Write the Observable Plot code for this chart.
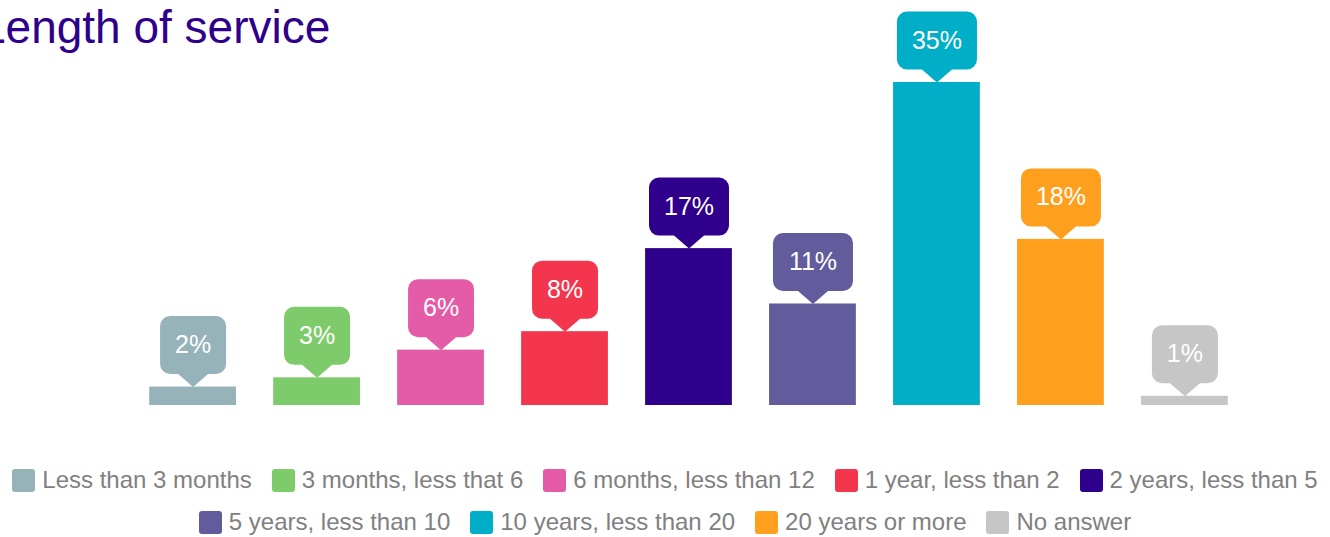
<!DOCTYPE html>
<html><head><meta charset="utf-8">
<script src="https://cdn.jsdelivr.net/npm/d3@7"></script>
<script src="https://cdn.jsdelivr.net/npm/@observablehq/plot@0.6"></script>
<style>
body{margin:0;background:#fff;font-family:"Liberation Sans",Arial,sans-serif;}
#wrap{position:relative;width:1330px;height:537px;overflow:hidden;}
#title{position:absolute;left:-20px;top:4px;font-size:46px;line-height:46px;color:#2E008B;white-space:nowrap;}
#chart svg{display:block}
#legend{padding-top:29px;}
.row{display:flex;justify-content:center;gap:20px;height:42px;align-items:center;}
.item{display:flex;align-items:center;font-size:24px;color:#808080;white-space:nowrap;}
.sw{width:23px;height:23px;border-radius:3px;margin-right:7px;flex:none;}
</style></head>
<body><div id="wrap"><div id="chart"></div><div id="title">Length of service</div><div id="legend"></div></div>
<script>
const categories = ["Less than 3 months","3 months, less that 6","6 months, less than 12","1 year, less than 2","2 years, less than 5","5 years, less than 10","10 years, less than 20","20 years or more","No answer"];
const values = [2,3,6,8,17,11,35,18,1];
const labels = ["2%","3%","6%","8%","17%","11%","35%","18%","1%"];
const colors = ["#96B3BA","#7ECB6B","#E45BA7","#F3364D","#2E008B","#625C9C","#00AEC8","#FE9F1D","#C6C6C6"];
const legendRowSizes = [5,4];

const rows = categories.map((c,i)=>({cat:c, value:values[i], label:labels[i], wide:labels[i].length>2}));

function callout(w){
  const h=58, p=13, r=10, hw=15;
  return {draw(ctx){
    const l=-w/2, rr=w/2, t=-(p+h), b=-p;
    ctx.moveTo(0,0); ctx.lineTo(-hw,b); ctx.lineTo(l+r,b);
    ctx.arcTo(l,b,l,b-r,r); ctx.lineTo(l,t+r);
    ctx.arcTo(l,t,l+r,t,r); ctx.lineTo(rr-r,t);
    ctx.arcTo(rr,t,rr,t+r,r); ctx.lineTo(rr,b-r);
    ctx.arcTo(rr,b,rr-r,b,r); ctx.lineTo(hw,b); ctx.closePath();
  }};
}

const chart = Plot.plot({
  width:1330, height:430,
  marginTop:82, marginBottom:25, marginLeft:112, marginRight:65,
  x:{domain:categories, padding:0.3, round:false, axis:null},
  y:{domain:[0,35], axis:null},
  color:{domain:categories, range:colors},
  style:{fontFamily:'"Liberation Sans", Arial, sans-serif', overflow:"visible", background:"transparent"},
  marks:[
    Plot.barY(rows,{x:"cat", y:"value", fill:"cat"}),
    Plot.dot(rows.filter(d=>!d.wide),{x:"cat", y:"value", fill:"cat", symbol:callout(66), r:5}),
    Plot.dot(rows.filter(d=>d.wide),{x:"cat", y:"value", fill:"cat", symbol:callout(80), r:5}),
    Plot.text(rows,{x:"cat", y:"value", text:"label", dy:-42, fill:"white", fontSize:25})
  ]
});
document.getElementById("chart").appendChild(chart);

const legend = document.getElementById("legend");
let k=0;
for(const n of legendRowSizes){
  const row=document.createElement("div"); row.className="row";
  for(let j=0;j<n;j++,k++){
    const it=document.createElement("div"); it.className="item";
    const sw=document.createElement("span"); sw.className="sw"; sw.style.background=colors[k];
    const tx=document.createElement("span"); tx.textContent=categories[k];
    it.appendChild(sw); it.appendChild(tx); row.appendChild(it);
  }
  legend.appendChild(row);
}
</script>
</body></html>
